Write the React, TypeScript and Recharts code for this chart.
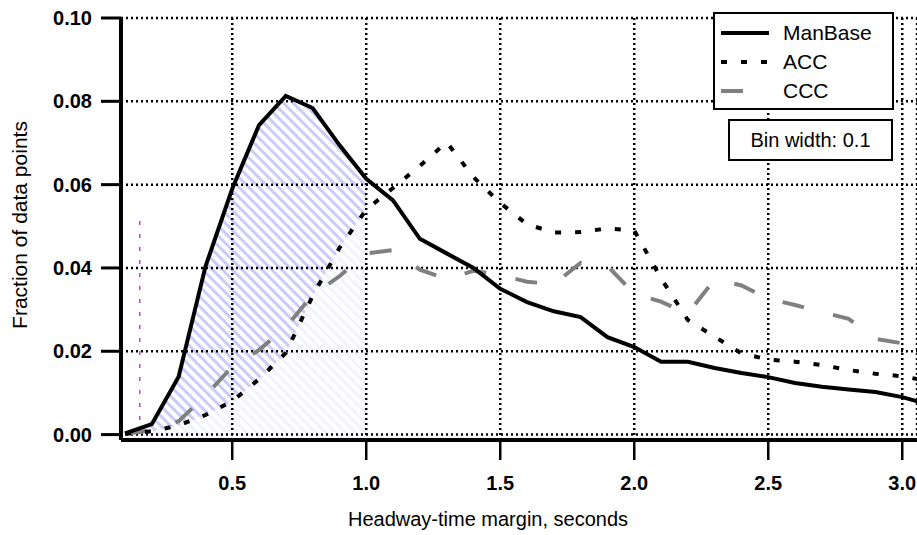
import React from 'react';
import {
  ComposedChart,
  Line,
  Area,
  XAxis,
  YAxis,
  CartesianGrid,
  ReferenceLine,
  Legend,
  Label,
} from 'recharts';

const FONT = '"Liberation Sans", Arial, Helvetica, sans-serif';

// bin centres, seconds
const headway = [
  0.1, 0.2, 0.3, 0.4, 0.5, 0.6, 0.7, 0.8, 0.9, 1.0,
  1.1, 1.2, 1.3, 1.4, 1.5, 1.6, 1.7, 1.8, 1.9, 2.0,
  2.1, 2.2, 2.3, 2.4, 2.5, 2.6, 2.7, 2.8, 2.9, 3.0, 3.1,
];

const manBase = [
  0.0003, 0.0025, 0.0139, 0.0403, 0.059, 0.0743, 0.0813, 0.0784, 0.0695, 0.0614,
  0.0562, 0.047, 0.0435, 0.04, 0.035, 0.0318, 0.0296, 0.0282, 0.0234, 0.021,
  0.0175, 0.0175, 0.016, 0.0148, 0.0138, 0.0124, 0.0115, 0.0108, 0.0102, 0.009, 0.0072,
];

const acc = [
  0.0002, 0.0008, 0.0022, 0.0047, 0.008, 0.0133, 0.0196, 0.0333, 0.0448, 0.054,
  0.0592, 0.0645, 0.0702, 0.0618, 0.0556, 0.0505, 0.0485, 0.0486, 0.0495, 0.049,
  0.0375, 0.0275, 0.0235, 0.0195, 0.018, 0.0175, 0.0167, 0.0155, 0.0146, 0.014, 0.0128,
];

const ccc = [
  0.0002, 0.001, 0.0032, 0.0093, 0.0163, 0.0203, 0.0258, 0.0335, 0.038, 0.0435,
  0.0443, 0.0396, 0.0373, 0.0393, 0.0383, 0.0367, 0.0361, 0.0412, 0.0405, 0.0338,
  0.0319, 0.029, 0.0373, 0.0358, 0.0326, 0.0311, 0.0294, 0.0278, 0.023, 0.0219, 0.0215,
];

const xTicks = [0.5, 1.0, 1.5, 2.0, 2.5, 3.0];
const yTicks = [0, 0.02, 0.04, 0.06, 0.08, 0.1];
const hatchEnd = 1.0;
const markerX = 0.155;
const markerRange = [0.0035, 0.0533];

const data = headway.map((x, i) => ({
  x,
  manBase: manBase[i],
  acc: acc[i],
  ccc: ccc[i],
  hatchTop: x <= hatchEnd + 1e-9 ? manBase[i] : null,
  hatchLow: x <= hatchEnd + 1e-9 ? acc[i] : null,
}));

const legendRows = [
  { name: 'ManBase', stroke: '#000', dash: undefined },
  { name: 'ACC', stroke: '#000', dash: '6 14' },
  { name: 'CCC', stroke: '#808080', dash: '22 30' },
];

function ChartLegend() {
  return (
    <div style={{ position: 'relative', fontFamily: FONT, fontSize: 21, color: '#000' }}>
      <div
        style={{
          position: 'absolute',
          left: 713,
          top: 12,
          width: 181,
          height: 98,
          border: '2px solid #000',
          boxSizing: 'border-box',
          background: '#fff',
        }}
      >
        {legendRows.map((r, i) => (
          <div
            key={r.name}
            style={{
              position: 'absolute',
              left: 6,
              top: 7 + i * 29,
              height: 24,
              display: 'flex',
              alignItems: 'center',
              whiteSpace: 'nowrap',
            }}
          >
            <svg width={48} height={10} style={{ display: 'block' }}>
              <line x1={0} y1={5} x2={48} y2={5} stroke={r.stroke} strokeWidth={4} strokeDasharray={r.dash} />
            </svg>
            <span style={{ marginLeft: 14 }}>{r.name}</span>
          </div>
        ))}
      </div>
      <div
        style={{
          position: 'absolute',
          left: 728,
          top: 119,
          width: 165,
          height: 42,
          border: '2px solid #000',
          boxSizing: 'border-box',
          background: '#fff',
          display: 'flex',
          alignItems: 'center',
          justifyContent: 'center',
          whiteSpace: 'nowrap',
          fontSize: 20,
        }}
      >
        Bin width: 0.1
      </div>
    </div>
  );
}

const tickStyle = { fill: '#000', fontSize: 20, fontWeight: 'bold', fontFamily: FONT };

export default function App() {
  return (
    <div style={{ position: 'absolute', left: 0, top: 0, width: 917, height: 535, background: '#fff', overflow: 'hidden' }}>
      <ComposedChart width={917} height={535} data={data} margin={{ top: 18, right: 0, bottom: 0, left: 0 }}>
        <defs>
          <pattern id="hatch" patternUnits="userSpaceOnUse" width={7} height={7} patternTransform="rotate(-45)">
            <rect width={7} height={7} fill="#ffffff" />
            <rect width={3} height={7} fill="#cbcbf9" />
          </pattern>
          <pattern id="hatchFaint" patternUnits="userSpaceOnUse" width={7} height={7} patternTransform="rotate(-45)">
            <rect width={7} height={7} fill="#ffffff" />
            <rect width={3} height={7} fill="#f3f3fd" />
          </pattern>
        </defs>
        <Area
          type="linear"
          dataKey="hatchTop"
          stroke="none"
          fill="url(#hatch)"
          fillOpacity={1}
          baseValue={0}
          dot={false}
          activeDot={false}
          legendType="none"
          isAnimationActive={false}
        />
        <Area
          type="linear"
          dataKey="hatchLow"
          stroke="none"
          fill="url(#hatchFaint)"
          fillOpacity={1}
          baseValue={0}
          dot={false}
          activeDot={false}
          legendType="none"
          isAnimationActive={false}
        />
        <CartesianGrid stroke="#000" strokeWidth={2.5} strokeDasharray="2 3" zIndex={150} />
        <XAxis
          type="number"
          dataKey="x"
          domain={[0.085, 3.055]}
          ticks={xTicks}
          allowDataOverflow
          tickFormatter={(v: number) => v.toFixed(1)}
          height={95}
          tickSize={20}
          tickMargin={16}
          axisLine={{ stroke: '#000', strokeWidth: 4 }}
          tickLine={{ stroke: '#000', strokeWidth: 2.5 }}
          tick={tickStyle}
        >
          <Label
            value="Headway-time margin, seconds"
            position="insideBottom"
            offset={9}
            dx={-31}
            style={{ fontSize: 20, fill: '#000', fontFamily: FONT }}
          />
        </XAxis>
        <YAxis
          type="number"
          domain={[-0.0013, 0.1]}
          ticks={yTicks}
          allowDataOverflow
          tickFormatter={(v: number) => v.toFixed(2)}
          width={121}
          tickSize={20}
          tickMargin={9}
          axisLine={{ stroke: '#000', strokeWidth: 4 }}
          tickLine={{ stroke: '#000', strokeWidth: 3 }}
          tick={tickStyle}
        >
          <Label
            value="Fraction of data points"
            angle={-90}
            position="insideLeft"
            offset={20}
            dy={-4}
            style={{ fontSize: 21, fill: '#000', fontFamily: FONT, textAnchor: 'middle' }}
          />
        </YAxis>
        <ReferenceLine
          segment={[
            { x: markerX, y: markerRange[0] },
            { x: markerX, y: markerRange[1] },
          ]}
          stroke="#c83cc8"
          strokeWidth={1.5}
          strokeDasharray="4 9"
        />
        <Line type="linear" dataKey="ccc" stroke="#808080" strokeWidth={4} strokeDasharray="22 30" dot={false} activeDot={false} isAnimationActive={false} />
        <Line type="linear" dataKey="acc" stroke="#000" strokeWidth={4} strokeDasharray="6 14" dot={false} activeDot={false} isAnimationActive={false} />
        <Line type="linear" dataKey="manBase" stroke="#000" strokeWidth={4} dot={false} activeDot={false} isAnimationActive={false} />
        <Legend
          layout="horizontal"
          verticalAlign="middle"
          align="center"
          content={() => <ChartLegend />}
          wrapperStyle={{ position: 'absolute', left: 0, top: 0, width: 917, height: 0, pointerEvents: 'none' }}
        />
      </ComposedChart>
    </div>
  );
}
